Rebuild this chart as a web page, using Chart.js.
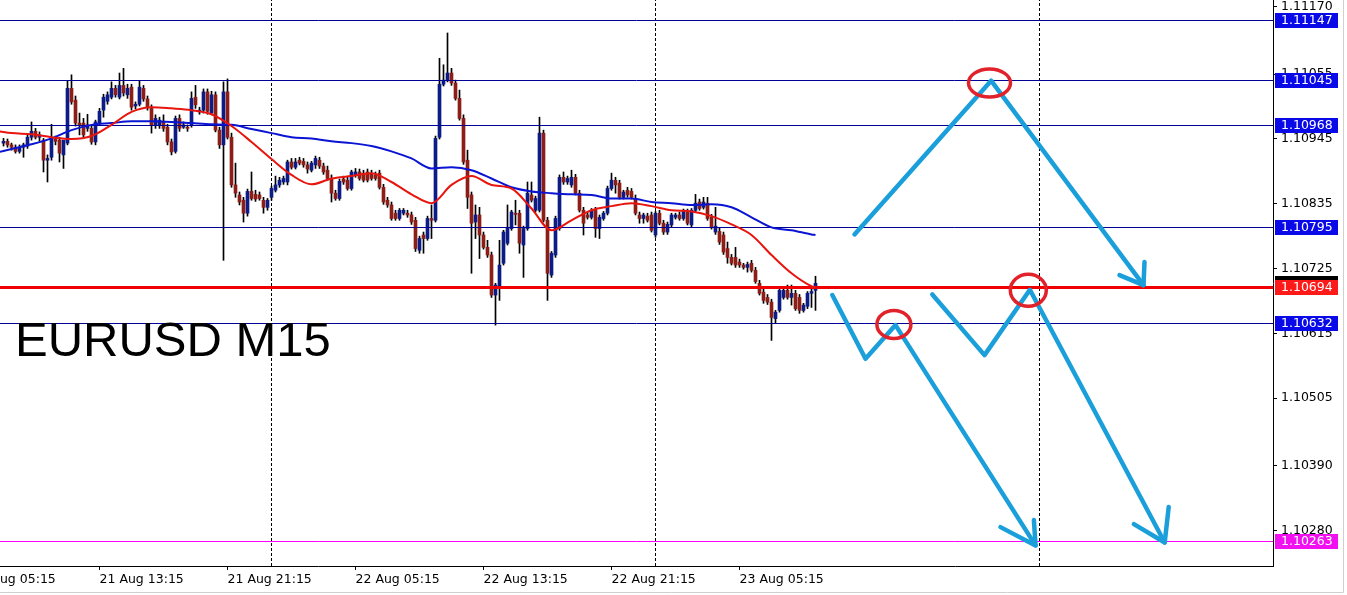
<!DOCTYPE html>
<html>
<head>
<meta charset="utf-8">
<script src="https://cdn.jsdelivr.net/npm/chart.js@4.4.0/dist/chart.umd.min.js"></script>
<style>
html, body { margin: 0; padding: 0; background: #fff; }
canvas { display: block; }
</style>
</head>
<body>
<canvas id="myChart" width="1347" height="595"></canvas>
<script>
// EURUSD M15, 最初の足は 21 Aug 07:15 (bar 8)
var firstBar = 8;

var opens = [
  1.10938, 1.10941, 1.10935, 1.10931, 1.10924, 1.10931, 1.10933, 1.10948, 1.10958, 1.10948,
  1.10943, 1.10909, 1.10914, 1.10945, 1.10943, 1.10918, 1.10938, 1.11031, 1.11011, 1.10972,
  1.10972, 1.10963, 1.10963, 1.10940, 1.10972, 1.10994, 1.11009, 1.11016, 1.11031, 1.11016,
  1.11036, 1.11020, 1.11033, 1.11001, 1.11004, 1.11031, 1.11013, 1.10997, 1.10969, 1.10969,
  1.10975, 1.10965, 1.10940, 1.10924, 1.10980, 1.10965, 1.10965, 1.10969, 1.11016, 1.10991,
  1.10994, 1.11025, 1.10989, 1.11020, 1.10960, 1.10935, 1.11025, 1.10948, 1.10867, 1.10850,
  1.10841, 1.10819, 1.10856, 1.10851, 1.10850, 1.10841, 1.10829, 1.10846, 1.10858, 1.10867,
  1.10872, 1.10872, 1.10906, 1.10897, 1.10909, 1.10907, 1.10901, 1.10892, 1.10901, 1.10909,
  1.10899, 1.10892, 1.10878, 1.10853, 1.10844, 1.10877, 1.10875, 1.10861, 1.10884, 1.10889,
  1.10887, 1.10889, 1.10887, 1.10884, 1.10887, 1.10863, 1.10841, 1.10833, 1.10819, 1.10810,
  1.10819, 1.10819, 1.10816, 1.10807, 1.10756, 1.10782, 1.10776, 1.10810, 1.10807, 1.10948,
  1.11038, 1.11045, 1.11057, 1.11040, 1.11014, 1.10980, 1.10909, 1.10850, 1.10804, 1.10816,
  1.10782, 1.10761, 1.10748, 1.10680, 1.10691, 1.10734, 1.10768, 1.10793, 1.10819, 1.10819,
  1.10765, 1.10793, 1.10850, 1.10824, 1.10824, 1.10955, 1.10807, 1.10714, 1.10748, 1.10793,
  1.10880, 1.10872, 1.10867, 1.10880, 1.10853, 1.10824, 1.10816, 1.10812, 1.10824, 1.10793,
  1.10810, 1.10819, 1.10861, 1.10875, 1.10870, 1.10846, 1.10858, 1.10856, 1.10844, 1.10816,
  1.10810, 1.10814, 1.10816, 1.10782, 1.10819, 1.10802, 1.10787, 1.10799, 1.10812, 1.10816,
  1.10810, 1.10821, 1.10799, 1.10824, 1.10838, 1.10829, 1.10836, 1.10812, 1.10787, 1.10788,
  1.10782, 1.10759, 1.10744, 1.10744, 1.10736, 1.10731, 1.10727, 1.10734, 1.10722, 1.10700,
  1.10685, 1.10676, 1.10668, 1.10640, 1.10654, 1.10676, 1.10688, 1.10676, 1.10683, 1.10676,
  1.10654, 1.10661, 1.10683, 1.10688
];
var highs = [
  1.10946, 1.10945, 1.10938, 1.10935, 1.10935, 1.10938, 1.10952, 1.10974, 1.10963, 1.10957,
  1.10946, 1.10918, 1.10970, 1.10950, 1.10948, 1.10926, 1.11043, 1.11054, 1.11018, 1.10989,
  1.10980, 1.10987, 1.10969, 1.10977, 1.10997, 1.11021, 1.11025, 1.11042, 1.11036, 1.11057,
  1.11065, 1.11038, 1.11038, 1.11008, 1.11043, 1.11036, 1.11018, 1.11003, 1.10986, 1.10982,
  1.10986, 1.10970, 1.10945, 1.10984, 1.10986, 1.10974, 1.10969, 1.11025, 1.11036, 1.10999,
  1.11030, 1.11030, 1.11026, 1.11025, 1.10965, 1.11042, 1.11047, 1.10955, 1.10904, 1.10855,
  1.10846, 1.10860, 1.10889, 1.10858, 1.10855, 1.10846, 1.10844, 1.10865, 1.10882, 1.10880,
  1.10882, 1.10909, 1.10912, 1.10912, 1.10914, 1.10912, 1.10906, 1.10907, 1.10916, 1.10914,
  1.10904, 1.10899, 1.10884, 1.10858, 1.10877, 1.10882, 1.10880, 1.10892, 1.10895, 1.10894,
  1.10892, 1.10894, 1.10892, 1.10889, 1.10892, 1.10868, 1.10846, 1.10838, 1.10824, 1.10827,
  1.10827, 1.10824, 1.10821, 1.10812, 1.10780, 1.10787, 1.10814, 1.10833, 1.10950, 1.11082,
  1.11071, 1.11125, 1.11065, 1.11045, 1.11028, 1.10986, 1.10926, 1.10855, 1.10833, 1.10829,
  1.10787, 1.10773, 1.10753, 1.10700, 1.10773, 1.10790, 1.10833, 1.10824, 1.10841, 1.10824,
  1.10797, 1.10872, 1.10872, 1.10848, 1.10982, 1.10960, 1.10812, 1.10754, 1.10814, 1.10884,
  1.10889, 1.10882, 1.10892, 1.10885, 1.10858, 1.10829, 1.10821, 1.10827, 1.10829, 1.10816,
  1.10822, 1.10865, 1.10887, 1.10880, 1.10875, 1.10858, 1.10863, 1.10861, 1.10850, 1.10821,
  1.10819, 1.10819, 1.10821, 1.10822, 1.10824, 1.10807, 1.10804, 1.10819, 1.10819, 1.10821,
  1.10826, 1.10826, 1.10827, 1.10851, 1.10843, 1.10846, 1.10846, 1.10817, 1.10829, 1.10795,
  1.10787, 1.10770, 1.10749, 1.10761, 1.10741, 1.10734, 1.10736, 1.10739, 1.10727, 1.10705,
  1.10690, 1.10681, 1.10673, 1.10654, 1.10691, 1.10691, 1.10697, 1.10697, 1.10688, 1.10681,
  1.10666, 1.10686, 1.10690, 1.10712
];
var lows = [
  1.10933, 1.10931, 1.10926, 1.10921, 1.10921, 1.10914, 1.10929, 1.10943, 1.10945, 1.10941,
  1.10889, 1.10872, 1.10909, 1.10935, 1.10906, 1.10895, 1.10935, 1.11004, 1.10967, 1.10952,
  1.10946, 1.10958, 1.10936, 1.10935, 1.10969, 1.10982, 1.11004, 1.11013, 1.11016, 1.11013,
  1.11018, 1.11014, 1.10994, 1.10996, 1.11001, 1.11009, 1.10994, 1.10955, 1.10963, 1.10963,
  1.10958, 1.10935, 1.10918, 1.10921, 1.10958, 1.10963, 1.10958, 1.10965, 1.10997, 1.10987,
  1.10989, 1.10987, 1.10986, 1.10957, 1.10929, 1.10739, 1.10945, 1.10863, 1.10846, 1.10833,
  1.10804, 1.10814, 1.10841, 1.10839, 1.10841, 1.10819, 1.10824, 1.10841, 1.10855, 1.10863,
  1.10868, 1.10867, 1.10894, 1.10894, 1.10901, 1.10897, 1.10887, 1.10889, 1.10895, 1.10895,
  1.10885, 1.10875, 1.10838, 1.10841, 1.10841, 1.10868, 1.10858, 1.10858, 1.10880, 1.10875,
  1.10872, 1.10872, 1.10875, 1.10875, 1.10860, 1.10834, 1.10829, 1.10807, 1.10807, 1.10807,
  1.10816, 1.10812, 1.10800, 1.10754, 1.10751, 1.10751, 1.10773, 1.10776, 1.10804, 1.10945,
  1.11035, 1.11042, 1.11036, 1.11011, 1.10977, 1.10902, 1.10827, 1.10717, 1.10776, 1.10742,
  1.10758, 1.10744, 1.10676, 1.10629, 1.10671, 1.10731, 1.10765, 1.10790, 1.10799, 1.10751,
  1.10710, 1.10790, 1.10838, 1.10821, 1.10821, 1.10804, 1.10671, 1.10710, 1.10744, 1.10790,
  1.10868, 1.10868, 1.10863, 1.10850, 1.10821, 1.10782, 1.10809, 1.10809, 1.10778, 1.10776,
  1.10807, 1.10816, 1.10858, 1.10853, 1.10843, 1.10843, 1.10846, 1.10843, 1.10816, 1.10802,
  1.10802, 1.10804, 1.10787, 1.10778, 1.10799, 1.10783, 1.10783, 1.10795, 1.10809, 1.10807,
  1.10807, 1.10799, 1.10795, 1.10821, 1.10824, 1.10826, 1.10807, 1.10792, 1.10783, 1.10766,
  1.10749, 1.10734, 1.10731, 1.10727, 1.10727, 1.10724, 1.10719, 1.10719, 1.10700, 1.10680,
  1.10666, 1.10664, 1.10603, 1.10632, 1.10651, 1.10673, 1.10673, 1.10663, 1.10654, 1.10649,
  1.10651, 1.10657, 1.10659, 1.10654
];
var closes = [
  1.10941, 1.10935, 1.10931, 1.10924, 1.10931, 1.10935, 1.10948, 1.10958, 1.10948, 1.10952,
  1.10909, 1.10912, 1.10946, 1.10941, 1.10921, 1.10943, 1.11031, 1.11008, 1.10972, 1.10969,
  1.10952, 1.10969, 1.10940, 1.10974, 1.10992, 1.11016, 1.11020, 1.11031, 1.11020, 1.11036,
  1.11023, 1.11031, 1.10999, 1.11004, 1.11033, 1.11013, 1.10999, 1.10969, 1.10980, 1.10977,
  1.10963, 1.10940, 1.10923, 1.10980, 1.10963, 1.10969, 1.10963, 1.11014, 1.11003, 1.10994,
  1.11025, 1.10992, 1.11020, 1.10960, 1.10935, 1.11025, 1.10948, 1.10867, 1.10853, 1.10838,
  1.10819, 1.10856, 1.10844, 1.10843, 1.10844, 1.10829, 1.10841, 1.10861, 1.10867, 1.10875,
  1.10878, 1.10906, 1.10897, 1.10906, 1.10904, 1.10901, 1.10894, 1.10904, 1.10912, 1.10899,
  1.10889, 1.10878, 1.10853, 1.10844, 1.10873, 1.10872, 1.10861, 1.10889, 1.10889, 1.10878,
  1.10875, 1.10875, 1.10878, 1.10878, 1.10863, 1.10838, 1.10833, 1.10810, 1.10810, 1.10824,
  1.10824, 1.10816, 1.10804, 1.10759, 1.10776, 1.10776, 1.10810, 1.10807, 1.10946, 1.11038,
  1.11045, 1.11057, 1.11040, 1.11014, 1.10980, 1.10906, 1.10846, 1.10802, 1.10816, 1.10782,
  1.10761, 1.10748, 1.10680, 1.10697, 1.10731, 1.10787, 1.10795, 1.10821, 1.10817, 1.10768,
  1.10793, 1.10853, 1.10841, 1.10844, 1.10955, 1.10807, 1.10717, 1.10751, 1.10810, 1.10880,
  1.10872, 1.10878, 1.10880, 1.10853, 1.10824, 1.10802, 1.10812, 1.10824, 1.10793, 1.10812,
  1.10819, 1.10861, 1.10875, 1.10867, 1.10846, 1.10855, 1.10850, 1.10846, 1.10819, 1.10810,
  1.10816, 1.10807, 1.10790, 1.10819, 1.10802, 1.10787, 1.10800, 1.10816, 1.10816, 1.10810,
  1.10822, 1.10802, 1.10824, 1.10836, 1.10827, 1.10838, 1.10810, 1.10795, 1.10797, 1.10770,
  1.10753, 1.10744, 1.10734, 1.10731, 1.10731, 1.10727, 1.10732, 1.10722, 1.10703, 1.10683,
  1.10671, 1.10668, 1.10642, 1.10651, 1.10688, 1.10688, 1.10676, 1.10683, 1.10657, 1.10654,
  1.10663, 1.10683, 1.10686, 1.10700
];

// 移動平均 (チャートから読み取り)
var maBars = [7, 10, 15, 20, 25, 30, 35, 40, 45, 50, 55, 60, 65, 70, 75, 80, 85, 90, 95, 100,
  105, 110, 115, 120, 125, 130, 135, 140, 145, 150, 155, 160, 165, 170, 175, 180, 185, 190,
  195, 200, 205, 210, 211];
var redMa = [1.10958, 1.10955, 1.10953, 1.10948, 1.10945, 1.10950, 1.10969, 1.10991, 1.10999,
  1.10997, 1.10994, 1.10987, 1.10967, 1.10940, 1.10911, 1.10884, 1.10868, 1.10878, 1.10882,
  1.10887, 1.10872, 1.10851, 1.10836, 1.10867, 1.10882, 1.10867, 1.10861, 1.10827, 1.10790,
  1.10807, 1.10824, 1.10831, 1.10836, 1.10831, 1.10824, 1.10822, 1.10814, 1.10800, 1.10782,
  1.10748, 1.10717, 1.10695, 1.10693];
var blueMa = [1.10923, 1.10928, 1.10936, 1.10946, 1.10960, 1.10969, 1.10972, 1.10975, 1.10975,
  1.10974, 1.10972, 1.10970, 1.10969, 1.10962, 1.10955, 1.10948, 1.10946, 1.10941, 1.10938,
  1.10933, 1.10924, 1.10912, 1.10895, 1.10897, 1.10892, 1.10878, 1.10863, 1.10856, 1.10853,
  1.10851, 1.10850, 1.10844, 1.10844, 1.10838, 1.10836, 1.10833, 1.10834, 1.10829, 1.10812,
  1.10795, 1.10790, 1.10783, 1.10782];

// 軸
var tickBars = [0, 32, 64, 96, 128, 160, 192];
var tickLabels = ['21 Aug 05:15', '21 Aug 13:15', '21 Aug 21:15', '22 Aug 05:15',
  '22 Aug 13:15', '22 Aug 21:15', '23 Aug 05:15'];
var priceTicks = [1.10280, 1.10390, 1.10505, 1.10615, 1.10725, 1.10835, 1.10945, 1.11055, 1.11170];
var separatorBars = [75, 171, 267];

// 水平線
var levels = [1.11147, 1.11045, 1.10968, 1.10795, 1.10694, 1.10632, 1.10263];
var levelKinds = ['blue', 'blue', 'blue', 'blue', 'red', 'blue', 'pink'];

// 矢印 (bar, price)
var arrowAx = [220.75, 254.9, 293], arrowAy = [1.10783, 1.11044, 1.10697];
var headAx = [287, 293, 293.25], headAy = [1.10714, 1.10697, 1.10736];
var arrowBx = [215.2, 223.5, 231, 266], arrowBy = [1.10680, 1.10572, 1.10629, 1.10255];
var headBx = [257.25, 266, 265.6], headBy = [1.10286, 1.10255, 1.10298];
var arrowCx = [240.2, 253.25, 264.6, 298.3], arrowCy = [1.10681, 1.10578, 1.10689, 1.10260];
var headCx = [290.6, 298.3, 299.3], headCy = [1.10291, 1.10260, 1.10320];
// 赤丸の中心
var ringX = [254.5, 230.6, 264.2], ringY = [1.11040, 1.10630, 1.10688];

var chartTitle = 'EURUSD M15';

var XMIN = 7.125, XMAX = 325.375;
var YMIN = 1.10220, YMAX = 1.11181;
var ringSize = [[21, 14], [17, 14], [18, 16]];
var kindStyle = {
  blue: {line: '#000096', box: '#0a0ae8', width: 1},
  red: {line: '#f00000', box: '#ff1a1a', width: 3},
  pink: {line: '#ff00ff', box: '#f010f0', width: 1}
};
var arrowColor = '#1b9fdb';

function pts(xs, ys) {
  return xs.map(function(x, k) { return {x: x, y: ys[k]}; });
}

var bars = opens.map(function(o, k) { return firstBar + k; });

var datasets = [];

// 日付の区切り線
separatorBars.forEach(function(b) {
  datasets.push({
    type: 'line', data: [{x: b, y: YMIN}, {x: b, y: YMAX}],
    borderColor: '#000', borderWidth: 1, borderDash: [3, 2], pointRadius: 0, order: 12
  });
});

// ヒゲ
datasets.push({
  type: 'bar',
  data: bars.map(function(x, k) { return {x: x, y: [lows[k], highs[k]]}; }),
  backgroundColor: '#000', barThickness: 1, grouped: false, order: 10
});
// 実体
var bodyIndex = datasets.length;
datasets.push({
  type: 'bar',
  data: bars.map(function(x, k) { return {x: x, y: [opens[k], closes[k]]}; }),
  backgroundColor: bars.map(function(x, k) { return closes[k] >= opens[k] ? '#0d1b86' : '#8c1d17'; }),
  barThickness: 3, minBarLength: 1, grouped: false, order: 9
});

datasets.push({
  type: 'line', data: pts(maBars, blueMa), borderColor: '#0a14d2', borderWidth: 2,
  pointRadius: 0, cubicInterpolationMode: 'monotone', order: 5
});
datasets.push({
  type: 'line', data: pts(maBars, redMa), borderColor: '#e8140e', borderWidth: 2,
  pointRadius: 0, cubicInterpolationMode: 'monotone', order: 4
});

[[arrowAx, arrowAy], [headAx, headAy], [arrowBx, arrowBy], [headBx, headBy],
 [arrowCx, arrowCy], [headCx, headCy]].forEach(function(p) {
  datasets.push({
    type: 'line', data: pts(p[0], p[1]), borderColor: arrowColor, borderWidth: 4.5,
    borderCapStyle: 'round', borderJoinStyle: 'round', pointRadius: 0, tension: 0, order: 2
  });
});

var tickFont = {family: 'DejaVu Sans', size: 12.5};

var overlay = {
  id: 'overlay',
  // 水平線はローソク足の上、移動平均の下
  afterDatasetDraw: function(chart, args) {
    if (args.index !== bodyIndex) return;
    var c = chart.ctx, ys = chart.scales.y, area = chart.chartArea;
    c.save();
    c.setLineDash([]);
    levels.forEach(function(v, k) {
      var st = kindStyle[levelKinds[k]];
      var y = Math.round(ys.getPixelForValue(v));
      if (st.width % 2 === 1) y += 0.5;
      c.strokeStyle = st.line;
      c.lineWidth = st.width;
      c.beginPath();
      c.moveTo(area.left, y);
      c.lineTo(area.right, y);
      c.stroke();
    });
    c.restore();
  },
  afterDatasetsDraw: function(chart) {
    var c = chart.ctx, xs = chart.scales.x, ys = chart.scales.y;
    c.save();
    c.strokeStyle = '#e1222b';
    c.lineWidth = 3.5;
    ringX.forEach(function(rx, k) {
      c.beginPath();
      c.ellipse(xs.getPixelForValue(rx), ys.getPixelForValue(ringY[k]),
        ringSize[k][0], ringSize[k][1], 0, 0, Math.PI * 2);
      c.stroke();
    });
    c.fillStyle = '#000';
    c.font = '49px "Liberation Sans"';
    c.textBaseline = 'alphabetic';
    c.fillText(chartTitle, 15, 356);
    c.restore();
  },
  afterDraw: function(chart) {
    var c = chart.ctx, ys = chart.scales.y, area = chart.chartArea;
    c.save();
    c.font = '12.5px "DejaVu Sans"';
    c.textBaseline = 'middle';
    function box(v, color, withText) {
      var y = Math.round(ys.getPixelForValue(v));
      c.fillStyle = color;
      c.fillRect(area.right + 2, y - 7, 63, 15);
      if (!withText) return;
      c.fillStyle = '#fff';
      c.fillText(v.toFixed(5), area.right + 8, y + 1);
    }
    // 現在値 (赤い線のラベルの後ろ)
    box(closes[closes.length - 1], '#000', false);
    levels.forEach(function(v, k) { box(v, kindStyle[levelKinds[k]].box, true); });
    // 枠
    c.strokeStyle = '#d0d0d0';
    c.lineWidth = 1;
    c.beginPath();
    c.moveTo(1343.5, 0); c.lineTo(1343.5, 592.5); c.lineTo(0, 592.5);
    c.stroke();
    c.restore();
  }
};

var ctx = document.getElementById('myChart');

var myChart = new Chart(ctx, {
  type: 'bar',
  data: {datasets: datasets},
  plugins: [overlay],
  options: {
    responsive: false,
    animation: false,
    events: [],
    layout: {padding: 0, autoPadding: false},
    plugins: {
      legend: {display: false},
      tooltip: {enabled: false}
    },
    scales: {
      x: {
        type: 'linear', position: 'bottom', min: XMIN, max: XMAX, offset: false,
        grid: {display: true, drawOnChartArea: false, drawTicks: true, tickLength: 4, color: '#000', offset: false},
        border: {display: true, color: '#000', width: 1},
        ticks: {
          autoSkip: false, maxRotation: 0, align: 'start', padding: 2, color: '#000', font: tickFont,
          callback: function(value) {
            var k = tickBars.indexOf(value);
            return k < 0 ? '' : tickLabels[k];
          }
        },
        afterBuildTicks: function(s) {
          s.ticks = tickBars.map(function(v) { return {value: v}; });
        },
        afterFit: function(s) {
          s.height = 29;
          s.paddingLeft = 0;
          s.paddingRight = 0;
        }
      },
      y: {
        type: 'linear', position: 'right', min: YMIN, max: YMAX, beginAtZero: false,
        grid: {display: true, drawOnChartArea: false, drawTicks: true, tickLength: 4, color: '#000'},
        border: {display: true, color: '#000', width: 1},
        ticks: {
          padding: 4, color: '#000', font: tickFont,
          callback: function(value) { return Number(value).toFixed(5); }
        },
        afterBuildTicks: function(s) {
          s.ticks = priceTicks.map(function(v) { return {value: v}; });
        },
        afterFit: function(s) {
          s.width = 74;
          s.paddingTop = 0;
          s.paddingBottom = 0;
        }
      }
    }
  }
});
</script>
</body>
</html>
